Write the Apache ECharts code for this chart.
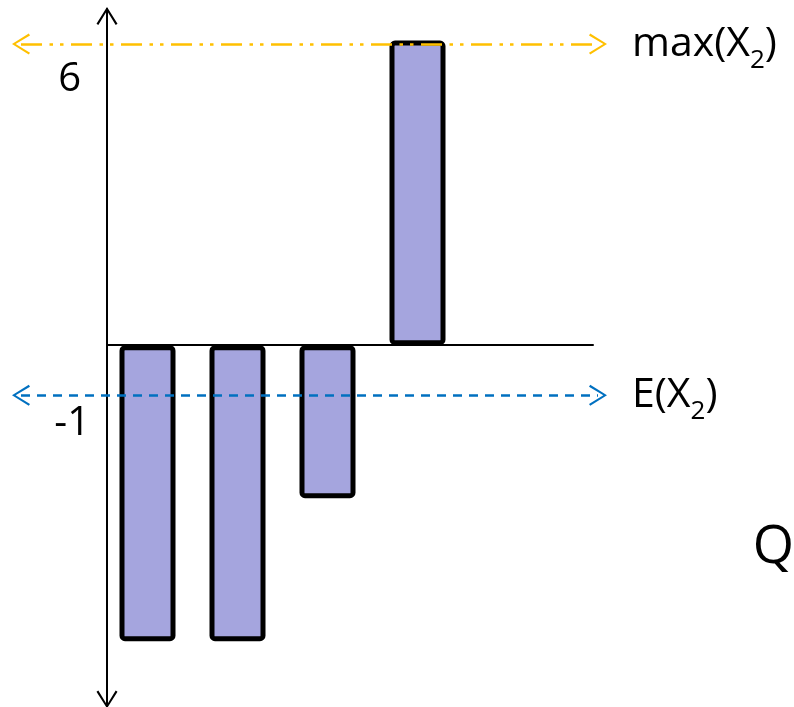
<!DOCTYPE html>
<html><head><meta charset="utf-8">
<script src="https://cdn.jsdelivr.net/npm/echarts@6/dist/echarts.min.js"></script>
<style>html,body{margin:0;padding:0;background:#fff}#c{width:794px;height:707px}</style>
</head><body><div id="c"></div>
<script>
// ---- data ----
const categories = ['ω1', 'ω2', 'ω3', 'ω4'];
const values = [-5.9, -5.9, -3.05, 6.07];
const maxValue = 6;
const meanValue = -1;
const yTickValues = [6, -1];
const lineLabels = ['max(X{s|2})', 'E(X{s|2})'];
const axisName = 'Q';

// ---- styling ----
const FONT = 'Open Sans';
const chevron = 'path://M10.5,0 L21,16.6 L19.2,17.8 L10.5,3.6 L1.8,17.8 L0,16.6 Z';
const Y_MIN = -7.2, Y_MAX = 6.7;

const chart = echarts.init(document.getElementById('c'), null, {renderer: 'canvas'});
chart.setOption({
  animation: false,
  backgroundColor: '#fff',
  title: {
    text: axisName, right: 0, top: 521, padding: 0,
    textStyle: {fontFamily: FONT, fontSize: 53, fontWeight: 'normal', color: '#000'}
  },
  grid: [
    {left: 107, right: 201, top: 9, bottom: 0.6},
    {left: 21, right: 196, top: 9, bottom: 0.6}
  ],
  xAxis: [
    {gridIndex: 0, type: 'value', min: -0.45, max: 4.95,
     axisLine: {show: true, onZero: true, lineStyle: {color: '#000', width: 2}},
     axisTick: {show: false}, axisLabel: {show: false}, splitLine: {show: false}},
    {gridIndex: 1, type: 'value', min: 0, max: 1, show: false}
  ],
  yAxis: [
    {gridIndex: 0, type: 'value', min: Y_MIN, max: Y_MAX,
     splitLine: {show: false}, axisTick: {show: false},
     axisLine: {show: true, onZero: false, symbol: [chevron, chevron], symbolSize: [21, 18],
                symbolOffset: [7, -7], lineStyle: {color: '#000', width: 2}},
     axisLabel: {
       customValues: yTickValues, margin: 17, color: '#000', fontFamily: FONT, fontSize: 40,
       formatter: function (v) { return '{t' + yTickValues.indexOf(v) + '|' + v + '}'; },
       rich: {
         t0: {fontFamily: FONT, fontSize: 40, color: '#000', padding: [70, 9, 0, 0]},
         t1: {fontFamily: FONT, fontSize: 40, color: '#000', padding: [56, 0, 0, 0]}
       }
     }},
    {gridIndex: 1, type: 'value', min: Y_MIN, max: Y_MAX, show: false}
  ],
  series: [
    {
      type: 'bar', xAxisIndex: 0, yAxisIndex: 0, barWidth: 56,
      data: values.map(function (v, i) { return {name: categories[i], value: [i, v]}; }),
      itemStyle: {color: '#A5A5DE', borderColor: '#000', borderWidth: 5, borderRadius: 3}
    },
    {
      type: 'line', xAxisIndex: 1, yAxisIndex: 1, data: [], z: 5, silent: true,
      markLine: {
        silent: true, symbol: [chevron, chevron], symbolSize: [21, 18],
        label: {
          show: true, position: 'end', distance: 34, color: '#000', fontFamily: FONT, fontSize: 41,
          rich: {s: {fontFamily: FONT, fontSize: 26, color: '#000', lineHeight: 58, verticalAlign: 'bottom'}}
        },
        data: [
          {yAxis: maxValue, label: {formatter: lineLabels[0]},
           lineStyle: {color: '#FFC000', width: 2.5, type: [21, 7.5, 3.5, 7, 3.5, 7.5]}},
          {yAxis: meanValue, label: {formatter: lineLabels[1]},
           lineStyle: {color: '#0070C0', width: 2.5, type: [9, 7]}}
        ]
      }
    }
  ]
});
</script></body></html>
